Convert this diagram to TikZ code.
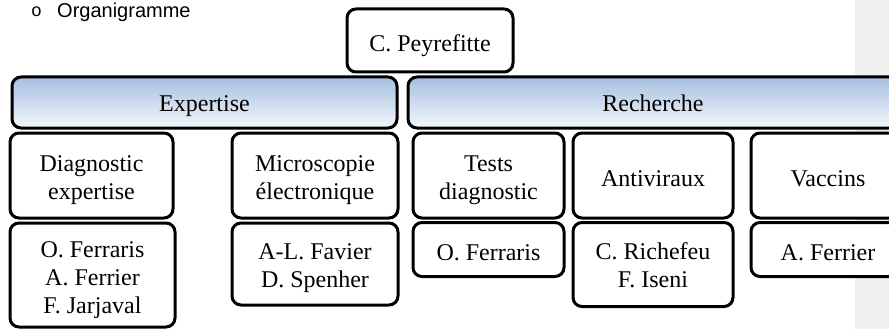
\documentclass[tikz,border=0pt]{standalone}
\usepackage{fontspec}
\setmainfont{Liberation Serif}
\newfontfamily\arialfont{Liberation Sans}
\newfontfamily\courfont{Liberation Mono}
\definecolor{barTop}{RGB}{167,192,223}
\definecolor{barBot}{RGB}{243,247,252}
\definecolor{marginGray}{RGB}{240,240,240}
\begin{document}
\begin{tikzpicture}[x=1pt,y=-1pt,
  box/.style={draw=black,line width=3pt,rounded corners=9pt,fill=white,align=center,inner sep=0pt,font=\fontsize{24}{28}\selectfont,execute at begin node={\rule{0pt}{29.6pt}},execute at end node=\strut},
  multi/.style={text height=#1,text depth=0pt},
  bar/.style={draw=black,line width=3pt,rounded corners=9pt,top color=barTop,bottom color=barBot,inner sep=0pt,font=\fontsize{24}{28}\selectfont,execute at begin node={\rule{0pt}{25.6pt}},execute at end node=\strut}]
\useasboundingbox (0,0) rectangle (889,329);
\clip (0,0) rectangle (889,329);
\fill[marginGray] (855,0) rectangle (889,329);
\node[anchor=base west,font=\courfont\fontsize{18}{20}\selectfont,inner sep=0pt] (bul) at (31,17) {o};
\node[anchor=base west,font=\arialfont\fontsize{20}{24}\selectfont,inner sep=0pt] (title) at (57,18) {Organigramme};
\node[box,minimum width=166,minimum height=63] (chef) at (430,40.5) {C. Peyrefitte};
\node[bar,minimum width=385,minimum height=51] (exp) at (204.5,102.5) {Expertise};
\node[bar,minimum width=490,minimum height=51] (rech) at (653,102.5) {Recherche};
\node[box,multi=48pt,minimum width=163,minimum height=85] (diag) at (91.5,175.5) {Diagnostic\\expertise};
\node[box,multi=76pt,minimum width=165,minimum height=104] (diagL) at (92.5,275) {O. Ferraris\\A. Ferrier\\F. Jarjaval};
\node[box,multi=48pt,minimum width=166,minimum height=85] (micro) at (315,175.5) {Microscopie\\électronique};
\node[box,multi=46pt,minimum width=166,minimum height=82] (microL) at (315,264) {A-L. Favier\\D. Spenher};
\node[box,multi=48pt,minimum width=151,minimum height=85] (tests) at (488.5,175.5) {Tests\\diagnostic};
\node[box,minimum width=151,minimum height=54] (testsL) at (488.5,249.5) {O. Ferraris};
\node[box,minimum width=160,minimum height=85] (anti) at (653,175.5) {Antiviraux};
\node[box,multi=45pt,minimum width=160,minimum height=84] (antiL) at (653,264.5) {C. Richefeu\\F. Iseni};
\node[box,minimum width=154,minimum height=85] (vacc) at (828,175.5) {Vaccins};
\node[box,minimum width=154,minimum height=54] (vaccL) at (828,249.5) {A. Ferrier};
\end{tikzpicture}
\end{document}
